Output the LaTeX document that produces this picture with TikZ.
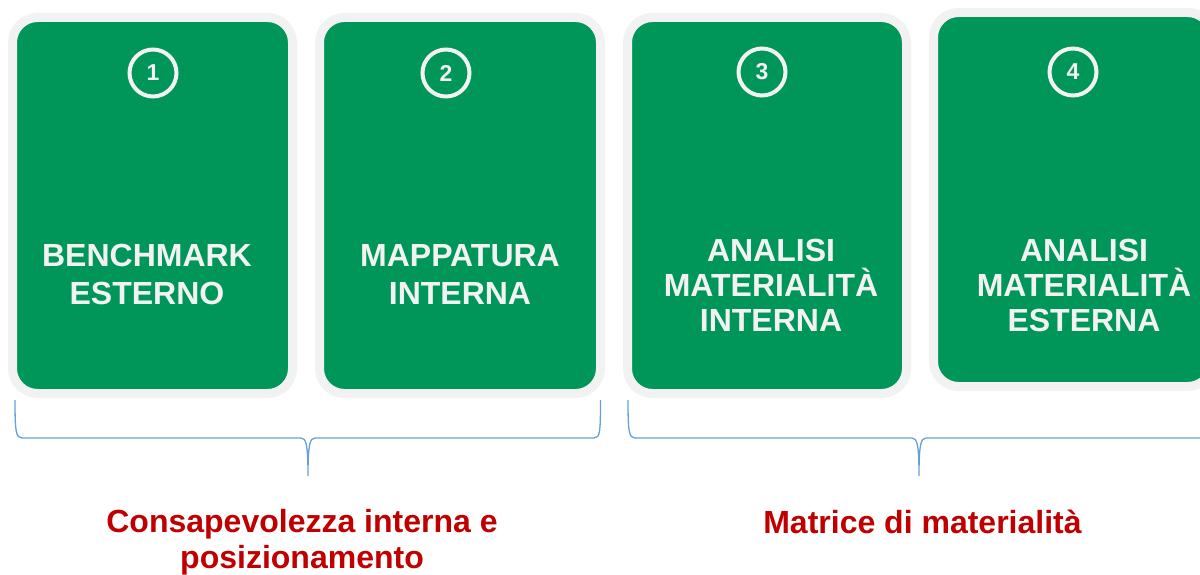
\documentclass[tikz,border=0pt]{standalone}
\usepackage{fontspec}
\setmainfont{Liberation Sans}
\definecolor{cardgreen}{RGB}{0,150,90}
\definecolor{rim}{RGB}{242,242,242}
\definecolor{braceblue}{RGB}{100,160,218}
\definecolor{labelred}{RGB}{192,0,0}
\tikzset{
  card/.style={draw=rim, line width=9pt, fill=cardgreen, rounded corners=25pt, inner sep=0pt},
  numring/.style={circle, draw=rim, line width=4pt, minimum size=47pt, inner sep=0pt,
    text=rim, font=\bfseries\fontsize{23}{23}\selectfont},
  cardtext/.style={text=rim, align=center, inner sep=0pt, font=\bfseries\fontsize{32}{38}\selectfont},
  cardtextb/.style={text=rim, align=center, inner sep=0pt, font=\bfseries\fontsize{32}{35}\selectfont},
  bracestyle/.style={draw=braceblue, line width=1.3pt},
  grouplabel/.style={text=labelred, align=center, inner sep=0pt, font=\bfseries\fontsize{32}{36}\selectfont}
}
\begin{document}
\begin{tikzpicture}[x=1pt,y=-1pt]
\useasboundingbox (0,0) rectangle (1200,575);
% cards
\node[card, minimum width=280pt, minimum height=376pt] (box1) at (152.5,205.5) {};
\node[card, minimum width=281pt, minimum height=376pt] (box2) at (460,205.5) {};
\node[card, minimum width=279pt, minimum height=376pt] (box3) at (767,205.5) {};
\node[card, minimum width=279pt, minimum height=374pt] (box4) at (1073,199.5) {};
% number rings
\node[numring] (n1) at (153,73) {1};
\node[numring] (n2) at (446,73) {2};
\node[numring] (n3) at (762,72) {3};
\node[numring] (n4) at (1073,72) {4};
% card texts
\node[cardtext] (t1) at (147,274) {BENCHMARK\\ESTERNO};
\node[cardtext] (t2) at (460,274) {MAPPATURA\\INTERNA};
\node[cardtextb] (t3) at (771,285.5) {ANALISI\\MATERIALITÀ\\INTERNA};
\node[cardtextb] (t4) at (1084,285.5) {ANALISI\\MATERIALITÀ\\ESTERNA};
% braces
\draw[bracestyle] (15,400) .. controls (15,432) and (16,438) .. (22,438) -- (301,438)
  .. controls (306,438) and (308,444) .. (308,476)
  .. controls (308,444) and (310,438) .. (315,438) -- (594,438)
  .. controls (600,438) and (600.5,432) .. (600.5,400);
\draw[bracestyle] (628,400) .. controls (628,432) and (629,438) .. (635,438) -- (912,438)
  .. controls (917,438) and (919,444) .. (919,476)
  .. controls (919,444) and (921,438) .. (926,438) -- (1204,438)
  .. controls (1210,438) and (1210.5,432) .. (1210.5,400);
% group labels
\node[grouplabel] (g1) at (302,542.5) {Consapevolezza interna e\\posizionamento};
\node[grouplabel, anchor=base] (g2) at (922.5,533) {Matrice di materialità};
\end{tikzpicture}
\end{document}
